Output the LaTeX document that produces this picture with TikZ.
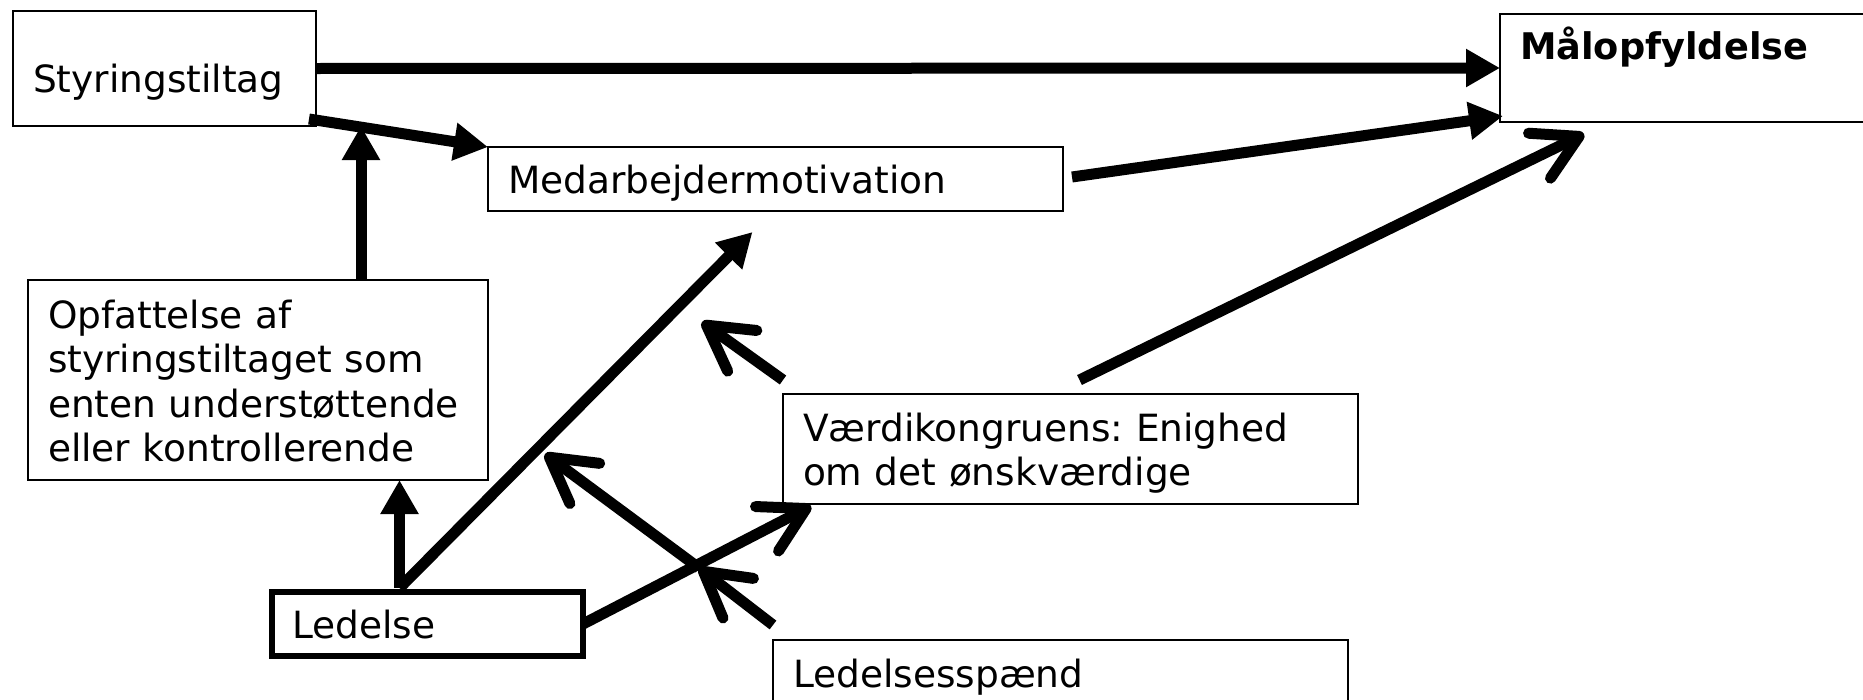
\documentclass[tikz,border=0pt]{standalone}
\usepackage{fontspec}
\setmainfont{DejaVu Sans}
\usetikzlibrary{arrows.meta}
\frenchspacing

\begin{document}
\begin{tikzpicture}[x=1pt,y=-1pt,
        box/.style={draw,rectangle,line width=2pt,anchor=north west,align=left,
            inner xsep=20pt,inner ysep=0pt,outer sep=0pt,
            font=\fontsize{37.5pt}{44.5pt}\selectfont},
        tri/.style={line width=11pt,-{Triangle[length=34pt,width=36pt]}},
        barb/.style={line width=11pt,-{Straight Barb[length=44pt,width=50pt,round]}}]
        \useasboundingbox (0,0) rectangle (1863,699);

        \node[box,text width=263pt,text height=81pt,text depth=34pt]  (styr)   at (13,11)    {Styringstiltag};
        \node[box,text width=410pt,text height=45pt,text depth=63pt]  (maal)   at (1500,14)  {\fontsize{36.7pt}{44.5pt}\selectfont\bfseries Målopfyldelse};
        \node[box,text width=535pt,text height=46pt,text depth=18pt]  (motiv)  at (488,147)  {Medarbejdermotivation};
        \node[box,text width=420pt,text height=48pt,text depth=152pt] (opf)    at (28,280)   {Opfattelse af\\styringstiltaget som\\enten understøttende\\eller kontrollerende};
        \node[box,line width=6pt,text width=271pt,text height=46pt,text depth=18pt] (led) at (272,592) {Ledelse};
        \node[box,text width=535pt,text height=47pt,text depth=63pt]  (vaerdi) at (783,394)  {Værdikongruens: Enighed\\om det ønskværdige};
        \node[box,text width=535pt,text height=47pt,text depth=73pt]  (spaend) at (773,640)  {Ledelsesspænd};

        \coordinate (c_up)    at ([xshift=103pt]opf.north);
        \coordinate (l_top)   at ([xshift=-28pt,yshift=4pt]led.north);
        \coordinate (h_end)   at ([xshift=-81pt,yshift=72pt]vaerdi.north west);
        \coordinate (j_start) at ([yshift=15pt]spaend.north west);
        \coordinate (j_mid)   at ([xshift=-74pt,yshift=72pt]spaend.north west);
        \coordinate (j_end)   at ([xshift=-228pt,yshift=186pt]spaend.north west);

        \path[tri] (styr.east) edge (maal.west)
        ([xshift=-7pt,yshift=7pt]styr.south east) edge (motiv.north west)
        (c_up) edge (c_up |- styr.south)
        ([xshift=9pt,yshift=2pt]motiv.east) edge ([xshift=3pt,yshift=6pt]maal.south west)
        (l_top) edge (l_top |- opf.south)
        (l_top) edge ([xshift=-23pt,yshift=-21pt]motiv.south)
        ;

        \path[barb] ([xshift=9pt,yshift=14pt]vaerdi.north) edge ([xshift=84pt,yshift=-12pt]maal.south west)
        ([yshift=14pt]vaerdi.north west) edge (h_end)
        (led.east) edge ([xshift=28pt,yshift=-2pt]vaerdi.south west)
        (j_start) edge (j_mid)
        (j_mid) edge (j_end)
        ;
    \end{tikzpicture}
\end{document}
